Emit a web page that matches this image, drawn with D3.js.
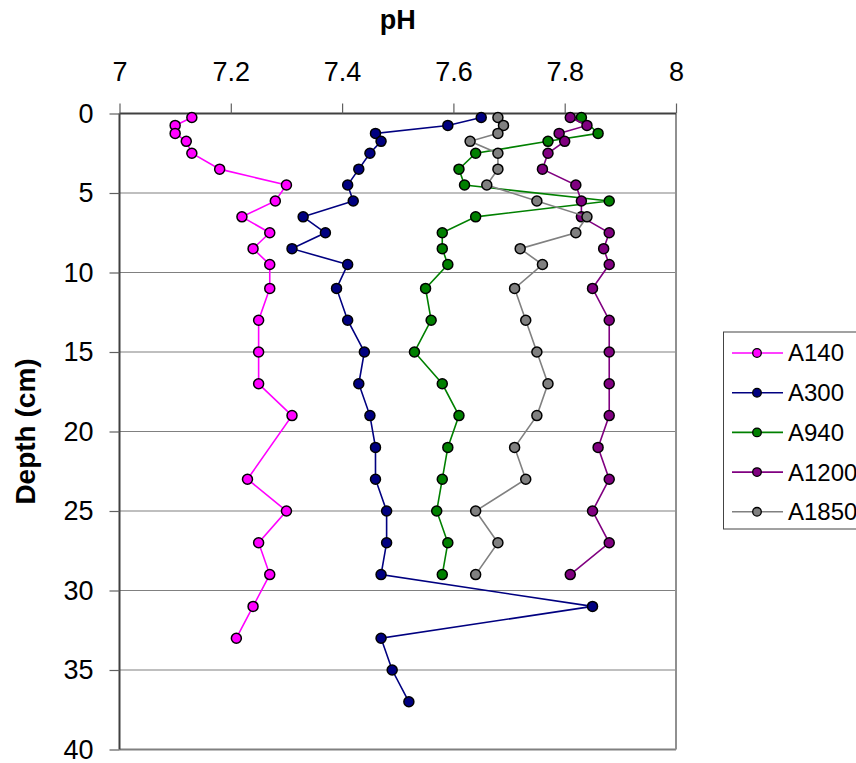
<!DOCTYPE html>
<html>
<head>
<meta charset="utf-8">
<script src="https://cdn.jsdelivr.net/npm/d3@7"></script>
<style>
  body { margin: 0; background: #fff; }
  svg { font-family: "Liberation Sans", Arial, sans-serif; }
</style>
</head>
<body>
<svg id="chart" width="856" height="763"></svg>
<script>
// depth (cm) and pH
const depthsA140 = [0.25, 0.75, 1.25, 1.75, 2.5, 3.5, 4.5, 5.5, 6.5, 7.5, 8.5, 9.5, 11, 13, 15, 17, 19, 23, 25, 27, 29, 31, 33];
const phA140 = [7.13, 7.10, 7.10, 7.12, 7.13, 7.18, 7.30, 7.28, 7.22, 7.27, 7.24, 7.27, 7.27, 7.25, 7.25, 7.25, 7.31, 7.23, 7.30, 7.25, 7.27, 7.24, 7.21];

const depthsA300 = [0.25, 0.75, 1.25, 1.75, 2.5, 3.5, 4.5, 5.5, 6.5, 7.5, 8.5, 9.5, 11, 13, 15, 17, 19, 21, 23, 25, 27, 29, 31, 33, 35, 37];
const phA300 = [7.65, 7.59, 7.46, 7.47, 7.45, 7.43, 7.41, 7.42, 7.33, 7.37, 7.31, 7.41, 7.39, 7.41, 7.44, 7.43, 7.45, 7.46, 7.46, 7.48, 7.48, 7.47, 7.85, 7.47, 7.49, 7.52];

const depthsA940 = [0.25, 1.25, 1.75, 2.5, 3.5, 4.5, 5.5, 6.5, 7.5, 8.5, 9.5, 11, 13, 15, 17, 19, 21, 23, 25, 27, 29];
const phA940 = [7.83, 7.86, 7.77, 7.64, 7.61, 7.62, 7.88, 7.64, 7.58, 7.58, 7.59, 7.55, 7.56, 7.53, 7.58, 7.61, 7.59, 7.58, 7.57, 7.59, 7.58];

const depthsA1200 = [0.25, 0.75, 1.25, 1.75, 2.5, 3.5, 4.5, 5.5, 6.5, 7.5, 8.5, 9.5, 11, 13, 15, 17, 19, 21, 23, 25, 27, 29];
const phA1200 = [7.81, 7.84, 7.79, 7.80, 7.77, 7.76, 7.82, 7.83, 7.83, 7.88, 7.87, 7.88, 7.85, 7.88, 7.88, 7.88, 7.88, 7.86, 7.88, 7.85, 7.88, 7.81];

const depthsA1850 = [0.25, 0.75, 1.25, 1.75, 2.5, 3.5, 4.5, 5.5, 6.5, 7.5, 8.5, 9.5, 11, 13, 15, 17, 19, 21, 23, 25, 27, 29];
const phA1850 = [7.68, 7.69, 7.68, 7.63, 7.68, 7.68, 7.66, 7.75, 7.84, 7.82, 7.72, 7.76, 7.71, 7.73, 7.75, 7.77, 7.75, 7.71, 7.73, 7.64, 7.68, 7.64];

const seriesNames = ["A140", "A300", "A940", "A1200", "A1850"];
const xTicks = [7, 7.2, 7.4, 7.6, 7.8, 8];
const yTicks = [0, 5, 10, 15, 20, 25, 30, 35, 40];

const colors = {A140: "#ff00ff", A300: "#000080", A940: "#008000", A1200: "#800080", A1850: "#808080"};
const series = [
    {name: "A140", depth: depthsA140, ph: phA140},
    {name: "A300", depth: depthsA300, ph: phA300},
    {name: "A940", depth: depthsA940, ph: phA940},
    {name: "A1200", depth: depthsA1200, ph: phA1200},
    {name: "A1850", depth: depthsA1850, ph: phA1850}
];

const svg = d3.select("#chart");
const plotLeft = 119.5, plotRight = 676, plotTop = 113.5, plotBottom = 749.5;

const x = d3.scaleLinear().domain([7, 8]).range([plotLeft, plotRight]);
const y = d3.scaleLinear().domain([0, 40]).range([plotTop, plotBottom]);

// gridlines
svg.append("g")
    .selectAll("line")
    .data(yTicks.filter(d => d > 0))
    .join("line")
    .attr("x1", plotLeft).attr("x2", plotRight)
    .attr("y1", d => y(d)).attr("y2", d => y(d))
    .attr("stroke", "#808080")
    .attr("stroke-width", d => d === 40 ? 2 : 1.2);

// right border
svg.append("line")
    .attr("x1", plotRight).attr("x2", plotRight)
    .attr("y1", plotTop).attr("y2", plotBottom)
    .attr("stroke", "#909090")
    .attr("stroke-width", 2);

// axes
const xAxis = svg.append("g")
    .attr("transform", `translate(0,${plotTop})`)
    .call(d3.axisTop(x).tickValues(xTicks).tickFormat(d3.format("~g")).tickSize(10).tickPadding(23));
const yAxis = svg.append("g")
    .attr("transform", `translate(${plotLeft},0)`)
    .call(d3.axisLeft(y).tickValues(yTicks).tickSize(10).tickPadding(16));

[xAxis, yAxis].forEach(a => {
    a.select(".domain").attr("stroke", "#404040").attr("stroke-width", 2);
    a.selectAll(".tick line").attr("stroke", "#606060").attr("stroke-width", 1.2);
    a.selectAll(".tick text")
        .attr("font-size", 27)
        .attr("font-family", "Liberation Sans, Arial, sans-serif")
        .attr("fill", "#000");
});
xAxis.select(".domain").attr("d", `M${plotLeft},0H${plotRight}`);
yAxis.select(".domain").attr("d", `M0,${plotTop}V${plotBottom}`);

// axis titles
svg.append("text")
    .attr("x", (plotLeft + plotRight) / 2)
    .attr("y", 29)
    .attr("text-anchor", "middle")
    .attr("font-size", 27)
    .attr("font-weight", "bold")
    .text("pH");

svg.append("text")
    .attr("transform", `translate(35,${(plotTop + plotBottom) / 2}) rotate(-90)`)
    .attr("text-anchor", "middle")
    .attr("font-size", 28)
    .attr("font-weight", "bold")
    .text("Depth (cm)");

// series
const line = d3.line()
    .x(d => x(d[1]))
    .y(d => y(d[0]));

series.forEach(s => {
    const pts = d3.zip(s.depth, s.ph);
    const g = svg.append("g");
    g.append("path")
        .datum(pts)
        .attr("d", line)
        .attr("fill", "none")
        .attr("stroke", colors[s.name])
        .attr("stroke-width", 1.6);
    g.selectAll("circle")
        .data(pts)
        .join("circle")
        .attr("cx", d => x(d[1]))
        .attr("cy", d => y(d[0]))
        .attr("r", 5)
        .attr("fill", colors[s.name])
        .attr("stroke", "#000")
        .attr("stroke-width", 1.5);
});

// legend
const legend = svg.append("g");
legend.append("rect")
    .attr("x", 723.5).attr("y", 332)
    .attr("width", 160).attr("height", 197)
    .attr("fill", "#fff")
    .attr("stroke", "#444")
    .attr("stroke-width", 1);

const item = legend.selectAll("g.item")
    .data(seriesNames)
    .join("g")
    .attr("class", "item")
    .attr("transform", (d, i) => `translate(0,${353 + i * 39.7})`);
item.append("line")
    .attr("x1", 732).attr("x2", 783)
    .attr("stroke", d => colors[d])
    .attr("stroke-width", 1.6);
item.append("circle")
    .attr("cx", 757).attr("r", 4.3)
    .attr("fill", d => colors[d])
    .attr("stroke", "#000")
    .attr("stroke-width", 1.3);
item.append("text")
    .attr("x", 788)
    .attr("dy", "0.35em")
    .attr("font-size", 24)
    .text(d => d);
</script>
</body>
</html>
